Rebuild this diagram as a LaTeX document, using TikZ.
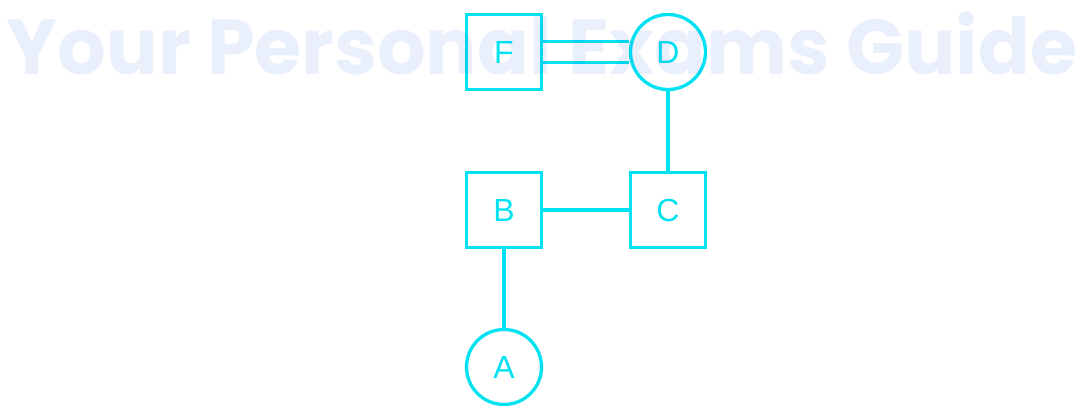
\documentclass[tikz,border=0pt]{standalone}
\usepackage{fontspec}
\setmainfont{Liberation Sans}
\newfontfamily\markfont{Poppins}
\definecolor{linecyan}{RGB}{0,226,242}
\definecolor{markblue}{RGB}{40,110,230}
\begin{document}
\begin{tikzpicture}[x=1pt,y=-1pt,
		box/.style={draw=linecyan, line width=3.3pt, minimum size=75pt, inner sep=0pt, text=linecyan, font=\fontsize{32}{36}\selectfont},
		ring/.style={box, circle},
		link/.style={linecyan, line width=3.3pt}]
		\useasboundingbox (0,0) rectangle (1083,405);
		
		\node[box] (F) at (504,52) {F};
		\node[ring] (D) at (668,52) {D};
		\node[box] (B) at (504,210) {B};
		\node[box] (C) at (668,210) {C};
		\node[ring] (A) at (504,367) {A};
		
		\draw[link] ([yshift=10.5pt]F.east) -- ([yshift=10.5pt]F.east -| D.west);
		\draw[link] ([yshift=-10.5pt]F.east) -- ([yshift=-10.5pt]F.east -| D.west);
		\draw[link] (D) -- (C);
		\draw[link] (B) -- (C);
		\draw[link] (B) -- (A);
		
		% watermark
		\node[text=markblue, opacity=0.1, font=\markfont\bfseries\fontsize{78}{90}\selectfont, anchor=base, xscale=0.98] (mark) at (542,74) {Your Personal Exams Guide};
		
\end{tikzpicture}
\end{document}
